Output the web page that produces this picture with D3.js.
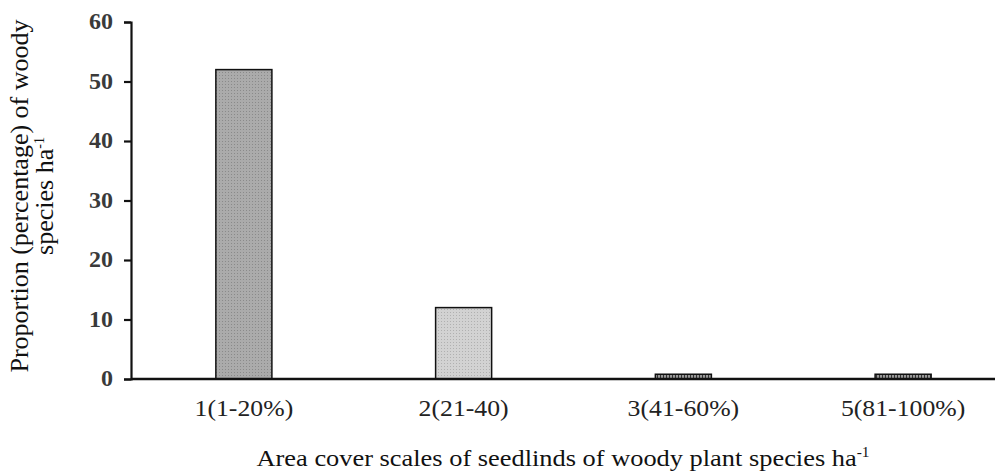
<!DOCTYPE html>
<html>
<head>
<meta charset="utf-8">
<script src="https://cdn.jsdelivr.net/npm/d3@7"></script>
<style>
  body { margin: 0; background: #fff; }
  text { font-family: "Liberation Serif", "Times New Roman", serif; }
</style>
</head>
<body>
<div id="chart"></div>
<script>
const categories = ['1(1-20%)', '2(21-40)', '3(41-60%)', '5(81-100%)'];
const values = [52, 12, 0.8, 0.8];
const barFills = ['url(#dots-dark)', 'url(#dots-light)', 'url(#hatch)', 'url(#hatch)'];
const yTicks = [0, 10, 20, 30, 40, 50, 60];

const width = 995, height = 476;
const axisX = 131;
const svg = d3.select('#chart').append('svg')
    .attr('width', width)
    .attr('height', height);

// textures
const defs = svg.append('defs');
const dark = defs.append('pattern').attr('id', 'dots-dark')
    .attr('patternUnits', 'userSpaceOnUse').attr('width', 3).attr('height', 3);
dark.append('rect').attr('width', 3).attr('height', 3).attr('fill', '#ababab');
dark.append('rect').attr('width', 1).attr('height', 1).attr('fill', '#8a8a8a');

const light = defs.append('pattern').attr('id', 'dots-light')
    .attr('patternUnits', 'userSpaceOnUse').attr('width', 3).attr('height', 3);
light.append('rect').attr('width', 3).attr('height', 3).attr('fill', '#d2d2d2');
light.append('rect').attr('width', 1).attr('height', 1).attr('fill', '#b0b0b0');

const hatch = defs.append('pattern').attr('id', 'hatch')
    .attr('patternUnits', 'userSpaceOnUse').attr('width', 3).attr('height', 3);
hatch.append('rect').attr('width', 3).attr('height', 3).attr('fill', '#999');
hatch.append('rect').attr('width', 1).attr('height', 3).attr('fill', '#333');

const x = d3.scaleBand()
    .domain(categories)
    .range([134, 1013])
    .paddingInner(0.745)
    .paddingOuter(0.3725);

const y = d3.scaleLinear()
    .domain([0, 60])
    .range([379, 22]);

// bars
svg.append('g').selectAll('rect')
    .data(values)
    .enter()
    .append('rect')
    .attr('x', (d, i) => x(categories[i]))
    .attr('y', d => y(d))
    .attr('width', x.bandwidth())
    .attr('height', d => y(0) - y(d))
    .attr('fill', (d, i) => barFills[i])
    .attr('stroke', '#111')
    .attr('stroke-width', 1.5);

// y axis
const yAxis = svg.append('g')
    .attr('transform', `translate(${axisX},0)`)
    .call(d3.axisLeft(y).tickValues(yTicks).tickSize(7).tickPadding(11));
yAxis.select('.domain').attr('stroke', '#111').attr('stroke-width', 2.2);
yAxis.selectAll('.tick line').attr('stroke', '#111').attr('stroke-width', 2.2);
yAxis.selectAll('.tick text')
    .attr('fill', '#3a3a3a')
    .attr('dy', '0.28em')
    .style('font-size', '24px')
    .style('font-weight', 'bold')
    .style('font-family', '"Liberation Serif", serif');

// x axis
const xAxis = svg.append('g')
    .attr('transform', `translate(0,${y(0)})`)
    .call(d3.axisBottom(x).tickSize(0).tickPadding(21));
xAxis.select('.domain').attr('d', `M${axisX},0H${width}`)
    .attr('stroke', '#111').attr('stroke-width', 2.5);
xAxis.selectAll('.tick text')
    .attr('fill', '#222')
    .attr('transform', 'scale(1.12,1)')
    .style('font-size', '23px')
    .style('font-family', '"Liberation Serif", serif');

// axis titles
svg.append('text')
    .attr('transform', 'translate(563,466) scale(1.1,1)')
    .attr('text-anchor', 'middle')
    .attr('fill', '#111')
    .style('font-size', '24px')
    .html('Area cover scales of seedlinds of woody plant species ha<tspan dy="-9" font-size="14px">-1</tspan>');

const yTitle = svg.append('text')
    .attr('transform', 'translate(0,196) rotate(-90)')
    .attr('text-anchor', 'middle')
    .attr('fill', '#111')
    .style('font-size', '26px');
yTitle.append('tspan').attr('x', 0).attr('y', 28)
    .text('Proportion (percentage) of woody');
yTitle.append('tspan').attr('x', 0).attr('y', 53)
    .html('species ha<tspan dy="-9" font-size="14px">-1</tspan>');
</script>
</body>
</html>
